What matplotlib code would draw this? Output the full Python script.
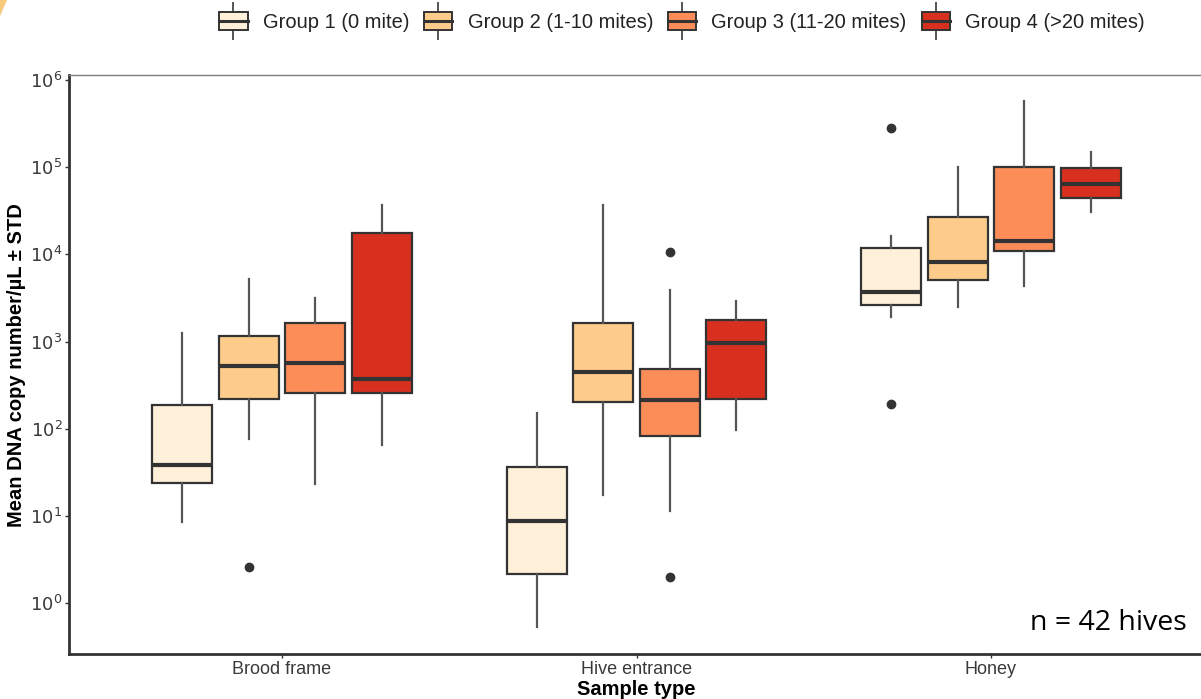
import matplotlib
matplotlib.use("Agg")
import matplotlib.pyplot as plt
from matplotlib.patches import Rectangle, Patch, Polygon
from matplotlib.lines import Line2D
from matplotlib.legend_handler import HandlerBase

plt.rcParams['font.family'] = ['Liberation Sans', 'DejaVu Sans']

categories = ["Brood frame", "Hive entrance", "Honey"]
groups = ["Group 1 (0 mite)", "Group 2 (1-10 mites)", "Group 3 (11-20 mites)", "Group 4 (>20 mites)"]
colors = ["#FEF0D9", "#FDCC8A", "#FC8D59", "#D7301F"]

# per category, per group: (whislo, q1, med, q3, whishi)
brood_stats = [
    (8.6, 24, 38.5, 190, 1260),
    (77, 222, 527, 1160, 5200),
    (23.6, 258, 576, 1640, 3200),
    (65, 258, 373, 17600, 36700),
]
hive_stats = [
    (0.53, 2.15, 8.8, 36.6, 152),
    (17.3, 202, 450, 1640, 36700),
    (11.4, 83, 214, 482, 3890),
    (98, 220, 959, 1760, 2900),
]
honey_stats = [
    (1920, 2660, 3720, 11700, 16200),
    (2500, 5150, 8200, 26500, 99300),
    (4320, 10900, 14200, 100700, 576000),
    (30500, 43800, 63400, 96600, 150000),
]
brood_outliers = [[], [2.6], [], []]
hive_outliers = [[], [], [10700, 1.99], []]
honey_outliers = [[278000, 191], [], [], []]

all_stats = [brood_stats, hive_stats, honey_stats]
all_outliers = [brood_outliers, hive_outliers, honey_outliers]

fig = plt.figure(figsize=(12.01, 6.99), dpi=100)
ax = fig.add_axes([69.3 / 1201, 1 - 654.3 / 699, 1134.4 / 1201, (654.3 - 75) / 699])

offsets = [-0.281, -0.094, 0.094, 0.281]
box_w = 0.169
edge = "#333333"
for ci, (cat_stats, cat_out) in enumerate(zip(all_stats, all_outliers)):
    for gi in range(4):
        lo, q1, med, q3, hi = cat_stats[gi]
        st = [dict(whislo=lo, q1=q1, med=med, q3=q3, whishi=hi, fliers=cat_out[gi])]
        ax.bxp(st, positions=[ci + offsets[gi]], widths=box_w, patch_artist=True,
               showcaps=False, manage_ticks=False,
               boxprops=dict(facecolor=colors[gi], edgecolor=edge, linewidth=1.6),
               medianprops=dict(color=edge, linewidth=3),
               whiskerprops=dict(color="#555555", linewidth=1.6),
               flierprops=dict(marker='o', markerfacecolor=edge, markeredgecolor=edge,
                               markersize=6, linestyle='none'))

ax.set_yscale('log')
ax.set_ylim(10 ** -0.585, 10 ** 6.057)
ax.set_xlim(-0.6, 2.6)
ax.set_yticks([10 ** k for k in range(0, 7)])
ax.set_yticklabels([r'$10^{%d}$' % k for k in range(0, 7)])
ax.yaxis.set_minor_locator(matplotlib.ticker.NullLocator())
ax.set_xticks(range(len(categories)))
ax.set_xticklabels(categories)
ax.tick_params(axis='both', length=3, width=1, color="#333333", labelcolor="#3A3A3A",
               labelsize=13, pad=2)
ax.tick_params(axis='y', labelsize=13)

for s in ['left', 'bottom']:
    ax.spines[s].set_color("#333333")
    ax.spines[s].set_linewidth(2)
ax.spines['top'].set_color("#7F7F7F")
ax.spines['top'].set_linewidth(1)
ax.spines['right'].set_visible(False)

ax.set_ylabel("Mean DNA copy number/µL ± STD", fontsize=14.5, fontweight='bold', labelpad=3)
ax.set_xlabel("Sample type", fontsize=14.5, fontweight='bold', labelpad=1)

ax.text(0.985, 0.03, "n = 42 hives", transform=ax.transAxes, ha='right', va='bottom',
        fontsize=20.5, family=['Open Sans', 'DejaVu Sans'], color='black')


class BoxHandler(HandlerBase):
    def create_artists(self, legend, orig_handle, xdescent, ydescent, width, height, fontsize, trans):
        fc = orig_handle.get_facecolor()
        x0 = -xdescent
        y0 = -ydescent
        cx = x0 + width / 2
        r = Rectangle((x0, y0), width, height, facecolor=fc, edgecolor=edge, linewidth=1.4,
                      transform=trans)
        m = Line2D([x0, x0 + width], [y0 + height / 2] * 2, color=edge, linewidth=2.2, transform=trans)
        w1 = Line2D([cx, cx], [y0 + height, y0 + height * 1.5], color="#555555", linewidth=1.4,
                    transform=trans)
        w2 = Line2D([cx, cx], [y0, y0 - height * 0.5], color="#555555", linewidth=1.4,
                    transform=trans)
        return [w1, w2, r, m]


handles = [Patch(facecolor=c) for c in colors]
leg = fig.legend(handles, groups, loc='center', bbox_to_anchor=(682 / 1201, 1 - 22 / 699),
                 ncol=4, frameon=False, fontsize=14.5, handlelength=1.4, handleheight=1.0,
                 handletextpad=0.75, columnspacing=0.75,
                 handler_map={Patch: BoxHandler()})
for t in leg.get_texts():
    t.set_color("#222222")

# small orange slide decoration in top-left corner
fig.patches.append(Polygon([(0, 1), (7 / 1201, 1), (0, 1 - 16 / 699)], closed=True,
                           transform=fig.transFigure, facecolor="#F5A623", edgecolor='none',
                           alpha=0.6))

fig.savefig("out.png", dpi=100)
